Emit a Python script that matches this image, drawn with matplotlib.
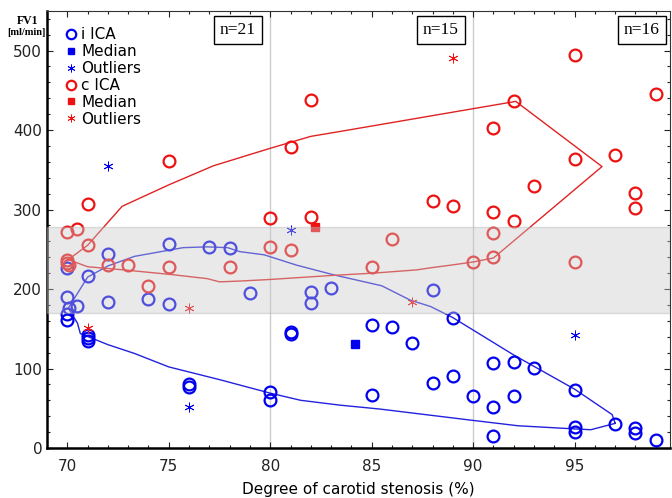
import matplotlib
matplotlib.use('Agg')
import matplotlib.pyplot as plt
from matplotlib.ticker import MultipleLocator

# ── Data ──────────────────────────────────────────────────────────────────
# i ICA (ipsilateral) points
i_x = [70, 70, 70.1, 70.5, 70, 70, 71, 71, 71, 71, 72, 72, 74, 75, 75, 76, 76,
       77, 78, 79, 80, 80, 81, 81, 82, 82, 83, 85, 85, 86, 87, 88, 88, 89, 89,
       90, 91, 91, 91, 92, 92, 93, 95, 95, 95, 97, 98, 98, 99]
i_y = [227, 190, 176, 178, 168, 161, 216, 142, 138, 134, 244, 184, 188, 257, 181, 80, 77,
       253, 251, 195, 71, 60, 146, 144, 196, 182, 201, 155, 67, 152, 132, 199, 82, 164, 91,
       65, 107, 51, 15, 108, 65, 101, 73, 26, 20, 30, 25, 19, 10]

# c ICA (contralateral) points
c_x = [70, 70.5, 70, 70, 70.1, 71, 71, 72, 73, 74, 75, 75, 78, 80, 80, 81, 81, 82, 82,
       85, 86, 88, 89, 90, 91, 91, 91, 91, 92, 92, 93, 95, 95, 95, 97, 98, 98, 99]
c_y = [272, 275, 237, 233, 230, 307, 255, 230, 230, 204, 361, 228, 228, 289, 253, 379, 249, 438, 291,
       228, 263, 311, 304, 234, 403, 297, 271, 240, 436, 286, 329, 494, 364, 234, 369, 321, 302, 445]

i_out_x = [72, 81, 76, 95]
i_out_y = [355, 274, 52, 142]
c_out_x = [71, 76, 87, 89]
c_out_y = [151, 176, 184, 490]

i_med = (84.2, 131)
c_med = (82.2, 278)

# envelope curves
i_env_x = [97, 96.85, 95, 92, 89, 87.9, 86.9, 85.5, 83.1, 81.3, 79.7, 78.5, 77.9, 76.9, 75.7,
           73.3, 72, 71, 70.05, 70.5, 70.64, 72, 73.3, 75, 77.5, 80, 81.5, 83.4, 85.4, 89.9,
           92.2, 95, 95.8, 97]
i_env_y = [31, 42, 74, 117, 164, 178, 186, 204, 218, 230, 243, 247, 252, 253, 252,
           241, 229, 215, 176, 157, 144, 130, 119, 102, 86, 69, 60, 54, 49, 35,
           28, 24, 23, 31]

c_env_x = [70.05, 71, 72.7, 75, 77.2, 80, 82, 83.4, 92.1, 96.35, 91, 90, 88.9, 88,
           87.2, 85.1, 83, 80, 78.5, 77.5, 76.9, 75.2, 72.8, 71, 70.05]
c_env_y = [237, 255, 304, 331, 355, 377, 392, 398, 436, 354, 239, 234, 230, 227,
           224, 220, 217, 212, 210, 209, 213, 218, 224, 228, 237]

band = (170, 278)
n_labels = ['n=21', 'n=15', 'n=16']
n_x = [78.4, 88.4, 98.3]

BLUE = '#0000EE'
RED = '#EE1111'
BLUE_LINE = '#2222DD'
RED_LINE = '#E02222'

# ── Figure ────────────────────────────────────────────────────────────────
fig = plt.figure(figsize=(6.72, 4.98), dpi=100)
ax = fig.add_axes([0.070, 0.1004, 0.927, 0.878])

ax.plot(i_env_x, i_env_y, color=BLUE_LINE, lw=1.0, zorder=2)
ax.plot(c_env_x, c_env_y, color=RED_LINE, lw=1.0, zorder=2)

ax.plot(i_x, i_y, 'o', ms=8.5, mfc='none', mec=BLUE, mew=1.6, ls='none', zorder=3, label='i ICA')
ax.plot([i_med[0]], [i_med[1]], 's', ms=5.5, color=BLUE, ls='none', zorder=3, label='Median')
ax.plot(i_out_x, i_out_y, marker=(6, 2, 0), ms=7, mec=BLUE, mew=0.6, ls='none', zorder=3, label='Outliers')
ax.plot(c_x, c_y, 'o', ms=8.5, mfc='none', mec=RED, mew=1.6, ls='none', zorder=3, label='c ICA')
ax.plot([c_med[0]], [c_med[1]], 's', ms=5.5, color=RED, ls='none', zorder=3, label='Median')
ax.plot(c_out_x, c_out_y, marker=(6, 2, 0), ms=7, mec=RED, mew=0.6, ls='none', zorder=3, label='Outliers')

# gray reference band, drawn over the points
ax.axhspan(band[0], band[1], facecolor='#c8c8c8', alpha=0.4, edgecolor='#b0b0b0', lw=1, zorder=4)

for xv in (80, 90):
    ax.axvline(xv, color='#cccccc', lw=1, zorder=1)

for lab, xv in zip(n_labels, n_x):
    ax.text(xv, 526, lab, ha='center', va='center', fontsize=12.5, family='Liberation Serif',
            bbox=dict(boxstyle='square,pad=0.35', facecolor='white', edgecolor='black', lw=1),
            zorder=6)

ax.set_xlim(69.0, 99.7)
ax.set_ylim(0, 550)
ax.set_xticks([70, 75, 80, 85, 90, 95])
ax.set_yticks([0, 100, 200, 300, 400, 500])
ax.xaxis.set_minor_locator(MultipleLocator(1))
ax.yaxis.set_minor_locator(MultipleLocator(20))
ax.tick_params(axis='both', which='both', direction='in', top=True, right=True,
               labelsize=11, length=4, width=0.8, colors='#222222')
ax.tick_params(axis='both', which='minor', length=2.5)
ax.tick_params(axis='x', which='major', pad=8)

ax.spines['bottom'].set_linewidth(1.8)
ax.spines['left'].set_linewidth(1.8)
ax.spines['top'].set_color('#333333')
ax.spines['right'].set_color('#333333')

ax.set_xlabel('Degree of carotid stenosis (%)', fontsize=11, labelpad=6)
fig.text(0.041, 0.957, 'FV1', ha='center', va='center', fontsize=8.5, fontweight='bold',
         family='Liberation Serif')
fig.text(0.040, 0.934, '[ml/min]', ha='center', va='center', fontsize=7.5, fontweight='bold',
         family='Liberation Serif')

leg = ax.legend(loc='upper left', bbox_to_anchor=(0.012, 0.99), frameon=False, fontsize=11,
                markerscale=0.8, handlelength=0.6, handletextpad=0.35, labelspacing=0.12,
                borderaxespad=0.4)
leg.set_zorder(7)

plt.savefig('out.png', dpi=100)
